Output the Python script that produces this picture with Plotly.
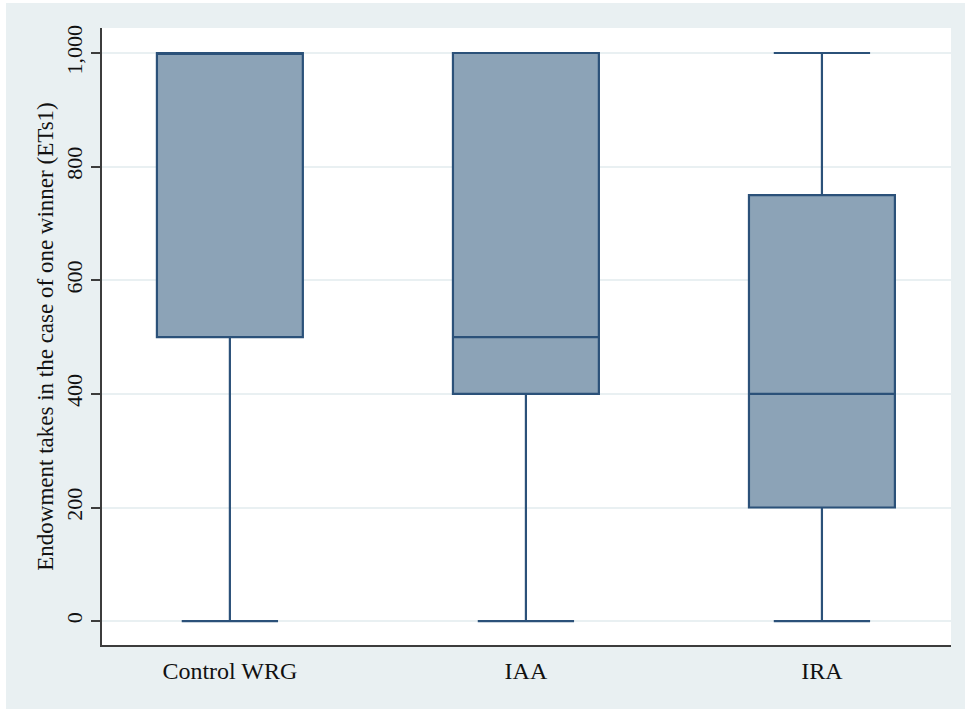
import plotly.graph_objects as go

# Box-plot summary statistics for ETs1 by treatment group
groups = ["Control WRG", "IAA", "IRA"]
lower_whisker = [0, 0, 0]
q1 = [500, 400, 200]
median = [1000, 500, 400]
q3 = [1000, 1000, 750]
upper_whisker = [1000, 1000, 1000]

y_ticks = [0, 200, 400, 600, 800, 1000]
y_tick_text = ["0", "200", "400", "600", "800", "1,000"]

FILL = "#8ca3b7"
EDGE = "#2b5179"
AXIS = "#3c3c3c"
PANEL = "#e9f0f2"
GRID = "#e9f0f2"
FONT = "Liberation Serif"

fig = go.Figure()
fig.add_trace(go.Box(
    x=groups,
    q1=q1,
    median=median,
    q3=q3,
    lowerfence=lower_whisker,
    upperfence=upper_whisker,
    fillcolor=FILL,
    line=dict(color=EDGE, width=2.2),
    width=0.493,
    whiskerwidth=0.66,
    boxpoints=False,
    showlegend=False,
    hoverinfo="skip",
))

# Light outer panel and white plotting region behind the gridlines
fig.add_shape(type="rect", xref="paper", yref="paper",
              x0=-0.1131, x1=1.0165, y0=-0.1037, y1=1.0405,
              fillcolor=PANEL, line=dict(width=0), layer="below")
fig.add_shape(type="rect", xref="paper", yref="paper",
              x0=0, x1=1, y0=0, y1=1,
              fillcolor="white", line=dict(width=0), layer="below")

fig.update_layout(
    width=966,
    height=709,
    margin=dict(l=102, r=15, t=28, b=64, pad=0),
    paper_bgcolor="white",
    plot_bgcolor="white",
    font=dict(family=FONT, color="#111111"),
    xaxis=dict(
        type="category",
        range=[-0.432, 2.436],
        showgrid=False,
        zeroline=False,
        showline=True,
        linecolor=AXIS,
        linewidth=2,
        ticks="",
        tickfont=dict(family=FONT, size=24, color="#111111"),
        ticklabelstandoff=3,
    ),
    yaxis=dict(
        range=[-42, 1044],
        tickvals=y_ticks,
        ticktext=y_tick_text,
        tickangle=-90,
        showgrid=True,
        gridcolor=GRID,
        gridwidth=2,
        zeroline=False,
        showline=True,
        linecolor=AXIS,
        linewidth=2,
        ticks="outside",
        ticklen=9,
        tickwidth=1.5,
        tickcolor=AXIS,
        tickfont=dict(family=FONT, size=22, color="#111111"),
        title=dict(
            text="Endowment takes in the case of one winner (ETs1)",
            font=dict(family=FONT, size=23, color="#111111"),
            standoff=2,
        ),
    ),
)

fig.write_html("out.html")
